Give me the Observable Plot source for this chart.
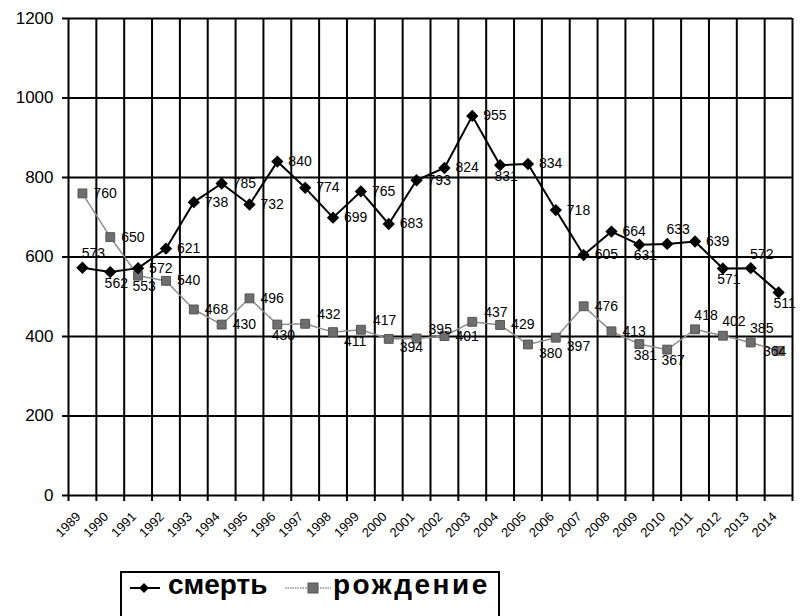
<!DOCTYPE html>
<html><head><meta charset="utf-8">
<script src="https://cdn.jsdelivr.net/npm/d3@7"></script>
<script src="https://cdn.jsdelivr.net/npm/@observablehq/plot@0.6"></script>
<style>
body{margin:0;background:#fff;font-family:"Liberation Sans",Arial,sans-serif;}
#chart{position:absolute;left:0;top:0}
#legend{position:absolute;left:120px;top:571px;width:376px;height:60px;border:2px solid #000;border-bottom:none;background:#fff}
#legend .t{position:absolute;top:-2px;font:bold 28px/28px "Liberation Sans",Arial,sans-serif;color:#000;white-space:nowrap}
#legend svg{position:absolute;top:5px}
</style></head><body>
<div id="chart"></div>
<div id="legend">
  <svg style="left:8px" width="30" height="20"><line x1="0" y1="10" x2="30" y2="10" stroke="#000" stroke-width="2"/><path d="M14,5 L19,10 L14,15 L9,10Z" fill="#000"/></svg>
  <span class="t" style="left:46px">смерть</span>
  <svg style="left:163px" width="46" height="20"><line x1="0" y1="10" x2="46" y2="10" stroke="#8c8c8c" stroke-width="1.5" stroke-dasharray="1.5,1"/><rect x="23" y="5" width="10" height="10" fill="#6e6e6e" stroke="#555" stroke-width="1"/></svg>
  <span class="t" style="left:211px;letter-spacing:2.5px">рождение</span>
</div>
<script>
const years = [1989,1990,1991,1992,1993,1994,1995,1996,1997,1998,1999,2000,2001,2002,2003,2004,2005,2006,2007,2008,2009,2010,2011,2012,2013,2014];
const deaths = [573,562,572,621,738,785,732,840,774,699,765,683,793,824,955,831,834,718,605,664,631,633,639,571,572,511];
const births = [760,650,553,540,468,430,496,430,432,411,417,394,395,401,437,429,380,397,476,413,381,367,418,402,385,364];
const yTicks = [0,200,400,600,800,1000,1200];
// label placement codes: r = right, a = above, b = below, ar = above right, br = below right, c = centred
const deathLabelPos = ["a","b","r","r","r","r","r","r","r","r","r","r","r","r","r","b","r","r","r","r","b","a","r","b","a","b"];
const birthLabelPos = ["r","r","b","r","r","r","r","b","ar","br","ar","br","ar","r","ar","r","br","br","r","r","b","b","a","a","a","c"];

const place = {
  r:  {textAnchor:"start",  dx:11, dy:0},
  a:  {textAnchor:"middle", dx:11, dy:-14},
  b:  {textAnchor:"middle", dx:6,  dy:11},
  ar: {textAnchor:"start",  dx:12, dy:-9},
  br: {textAnchor:"start",  dx:11, dy:9},
  c:  {textAnchor:"middle", dx:-4, dy:1}
};

const deathData = years.map((y,i)=>({year:y, value:deaths[i], pos:deathLabelPos[i]}));
const birthData = years.map((y,i)=>({year:y, value:births[i], pos:birthLabelPos[i]}));
const bounds = d3.range(years.length+1).map(i=>years[0]-0.5+i);

function labels(data){
  return Object.keys(place).map(k => Plot.text(data.filter(d=>d.pos===k), {
    x:"year", y:"value", text:d=>String(d.value),
    textAnchor: place[k].textAnchor, dx: place[k].dx, dy: place[k].dy,
    fontSize:14, fill:"#000"
  }));
}

const chart = Plot.plot({
  width:806, height:560,
  marginLeft:68, marginRight:14, marginTop:18, marginBottom:65,
  style:{fontFamily:"Liberation Sans, Arial, sans-serif", background:"#fff", color:"#000"},
  x:{type:"linear", domain:[years[0]-0.5, years[years.length-1]+0.5], label:null},
  y:{domain:[0,1200], label:null},
  marks:[
    Plot.ruleY(yTicks, {y:d=>d, stroke:"#000", strokeWidth:2}),
    Plot.ruleX(bounds, {x:d=>d, y1:0, y2:1200, stroke:"#000", strokeWidth:2}),
    Plot.axisX({ticks:bounds, tickSize:6, tickFormat:()=>"", strokeWidth:2, label:null}),
    Plot.axisY({ticks:yTicks, tickSize:6, tickPadding:9, fontSize:17, strokeWidth:2, label:null, tickFormat:d=>String(d)}),
    Plot.text(years, {x:d=>d, y:()=>0, text:d=>String(d), rotate:-45, textAnchor:"end", lineAnchor:"middle", dx:-4, dy:19, fontSize:13}),
    Plot.line(birthData, {x:"year", y:"value", stroke:"#8c8c8c", strokeWidth:1.5, strokeDasharray:"1.5,1"}),
    Plot.line(deathData, {x:"year", y:"value", stroke:"#000", strokeWidth:2}),
    Plot.dot(birthData, {x:"year", y:"value", symbol:"square", r:5, fill:"#6e6e6e", stroke:"#555", strokeWidth:1}),
    Plot.dot(deathData, {x:"year", y:"value", symbol:"diamond2", r:4.6, fill:"#000", stroke:"#000"}),
    ...labels(deathData),
    ...labels(birthData)
  ]
});
document.getElementById("chart").appendChild(chart);
</script>
</body></html>
